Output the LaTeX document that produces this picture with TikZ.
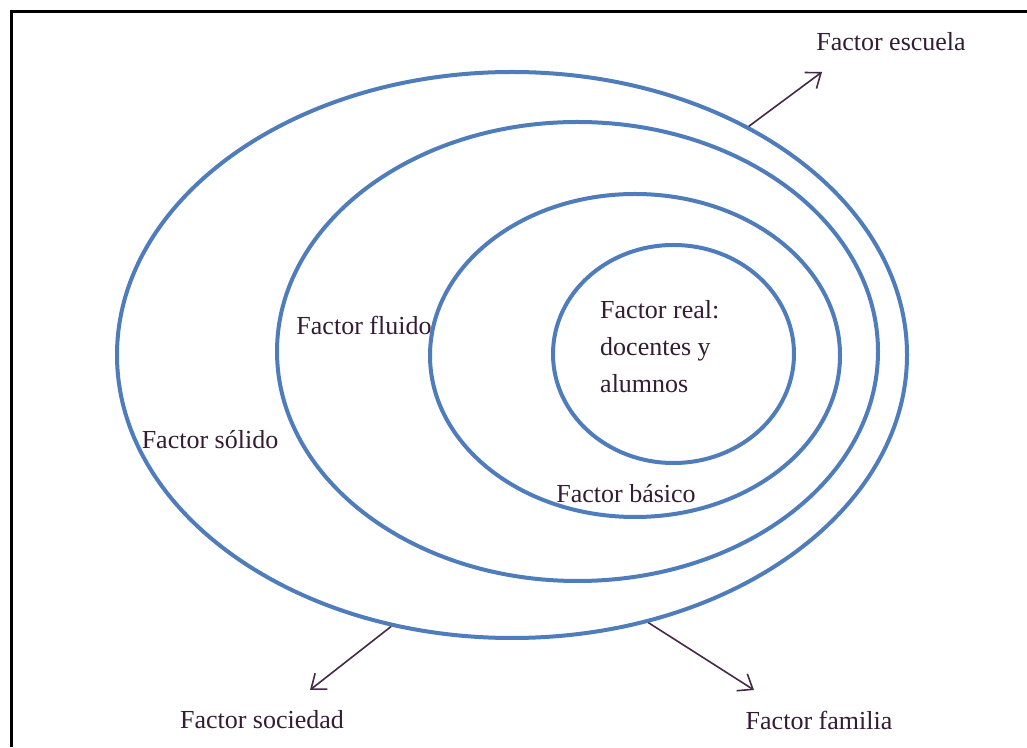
\documentclass[tikz,border=0pt]{standalone}
\usepackage{fontspec}
\setmainfont{Liberation Serif}
\usetikzlibrary{shapes.geometric,arrows.meta}
\definecolor{ringblue}{RGB}{79,124,186}
\definecolor{txtcol}{RGB}{52,28,52}
\definecolor{arrcol}{RGB}{70,40,72}
\tikzset{
  x=1pt,y=1pt,
  ring/.style={draw=ringblue,line width=4pt,ellipse,inner sep=0pt,fill=none},
  lab/.style={text=txtcol,font=\fontsize{26}{37}\selectfont,inner sep=0pt},
  pointer/.style={draw=arrcol,line width=1.6pt,-{Straight Barb[length=13pt,width=20pt,line width=1.6pt]}}
}
\begin{document}
\begin{tikzpicture}
\useasboundingbox (0,0) rectangle (1027,747);
\fill[white] (0,0) rectangle (1027,747);
\draw[line width=3pt,black] (11.5,0) -- (11.5,735) -- (1027,735);

\node[ring,minimum width=790pt,minimum height=566pt] (outer) at (512,392) {};
\node[ring,minimum width=601pt,minimum height=459pt] (fluid) at (577.5,395.5) {};
\node[ring,minimum width=410pt,minimum height=323pt] (basic) at (635,391.5) {};
\node[ring,minimum width=241pt,minimum height=218pt] (real) at (673.5,393) {};

\node[lab] (escuela) at (891,705) {Factor escuela};
\node[lab] (sociedad) at (262,27) {Factor sociedad};
\node[lab] (familia) at (819,27) {Factor familia};
\node[lab] (solido) at (210,307) {Factor sólido};
\node[lab] (fluido) at (364,422) {Factor fluido};
\node[lab] (basico) at (626,253) {Factor básico};
\node[lab,align=left,anchor=west] (reallab) at (600,400) {Factor real:\\docentes y\\alumnos};

\coordinate (escEnd) at (822,675);
\coordinate (socEnd) at (310,57);
\coordinate (famEnd) at (754,57);

\draw[pointer] (outer.44) -- (escEnd);
\draw[pointer] (outer.246.4) -- (socEnd);
\draw[pointer] (outer.297.2) -- (famEnd);
\end{tikzpicture}
\end{document}
